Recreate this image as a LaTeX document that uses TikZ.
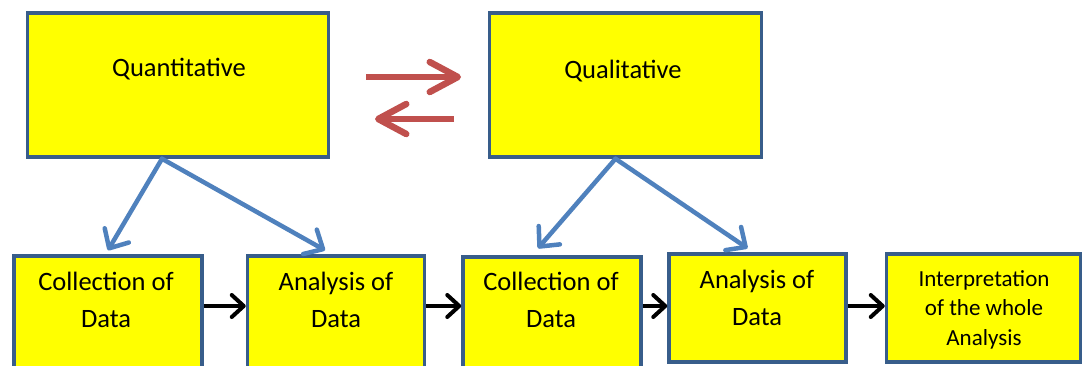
\documentclass[tikz,border=0pt]{standalone}
\usepackage{fontspec}
\setmainfont{Carlito}
\usetikzlibrary{arrows.meta}
\definecolor{boxedge}{HTML}{385D8A}
\definecolor{boxfill}{HTML}{FFFF00}
\definecolor{linkblue}{HTML}{4F81BD}
\definecolor{swapred}{HTML}{C0504D}
\begin{document}
\begin{tikzpicture}[x=1pt,y=-1pt,
  box/.style={rectangle, draw=boxedge, line width=3.5pt, fill=boxfill, inner sep=0pt},
  bigtxt/.style={font=\fontsize{26.5}{36.5}\selectfont, align=center, inner sep=0pt, anchor=base},
  smalltxt/.style={font=\fontsize{23}{29.5}\selectfont, align=center, inner sep=0pt, anchor=base},
  bluelink/.style={draw=linkblue, line width=4.5pt, line cap=round,
    -{Straight Barb[length=15pt, width=28pt, round]}},
  flow/.style={draw=black, line width=4pt,
    -{Straight Barb[length=12pt, width=22pt, round]}},
  swap/.style={draw=swapred, line width=6.5pt,
    -{Straight Barb[length=28pt, width=30pt, round]}}]
\useasboundingbox (0,0) rectangle (1082,365);
\clip (0,0) rectangle (1082,365);

% upper boxes
\node[box, minimum width=301pt, minimum height=144pt] (quant) at (178,85) {};
\node[box, minimum width=272pt, minimum height=144pt] (qual) at (625.5,85) {};
\node[bigtxt] (quanttxt) at (179,76) {Quantitative};
\node[bigtxt] (qualtxt) at (623,78) {Qualitative};

% lower row
\node[box, minimum width=188pt, minimum height=130pt] (c1) at (108,321) {};
\node[box, minimum width=177pt, minimum height=130pt] (a1) at (336,321) {};
\node[box, minimum width=178pt, minimum height=130pt] (c2) at (552,322) {};
\node[box, minimum width=177pt, minimum height=108pt] (a2) at (757.5,308) {};
\node[box, minimum width=194pt, minimum height=108pt] (fin) at (983.5,308) {};

% multi-line labels sit on the baseline of their last line
\node[bigtxt] (c1txt) at (106,327) {Collection of\\Data};
\node[bigtxt] (a1txt) at (336,327) {Analysis of\\Data};
\node[bigtxt] (c2txt) at (551,327) {Collection of\\Data};
\node[bigtxt] (a2txt) at (757,325) {Analysis of\\Data};
\node[smalltxt] (fintxt) at (984,345) {Interpretation\\of the whole\\Analysis};

% swap arrows between the two approaches
\coordinate (sw1a) at (366,77);
\coordinate (sw1b) at (461,77);
\coordinate (sw2a) at (454,119);
\coordinate (sw2b) at (375,119);
\draw[swap] (sw1a) -- (sw1b);
\draw[swap] (sw2a) -- (sw2b);

% links from each approach down to its steps
\draw[bluelink] ([xshift=-16pt]quant.south) -- ([yshift=4pt]c1.north);
\draw[bluelink] ([xshift=-16pt]quant.south) -- ([xshift=-11pt,yshift=4pt]a1.north);
\draw[bluelink] ([xshift=-10pt]qual.south) -- ([xshift=-14pt,yshift=7pt]c2.north);
\draw[bluelink] ([xshift=-10pt]qual.south) -- ([xshift=-10pt,yshift=4pt]a2.north);

% flow along the lower row
\draw[flow] ([yshift=2pt]c1.east |- a2) -- ([yshift=2pt]a1.west |- a2);
\draw[flow] ([yshift=2pt]a1.east |- a2) -- ([yshift=2pt]c2.west |- a2);
\draw[flow] ([yshift=2pt]c2.east |- a2) -- ([yshift=2pt]a2.west);
\draw[flow] ([yshift=2pt]a2.east) -- ([yshift=2pt]fin.west);
\end{tikzpicture}
\end{document}
